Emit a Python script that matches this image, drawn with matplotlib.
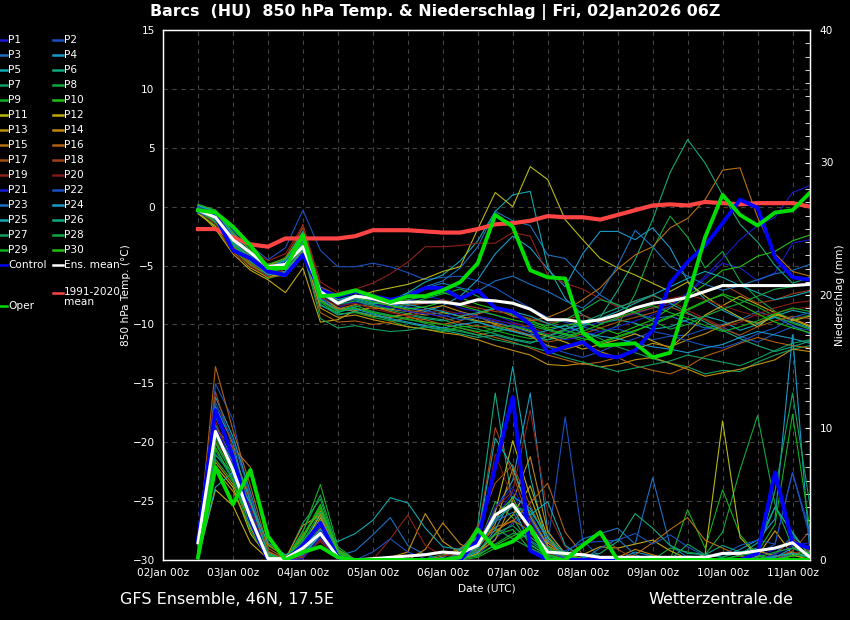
import numpy as np
import pandas as pd
import matplotlib
matplotlib.use('Agg')
import matplotlib.pyplot as plt
import matplotlib.dates as mdates
from matplotlib.lines import Line2D
from matplotlib.ticker import MultipleLocator

# time axis: 6-hourly from 02Jan 12z
times = pd.date_range('2026-01-02 12:00', periods=36, freq='6h')

# 850 hPa temperature of the ensemble members P1..P30 (degC)
member_temp = [
    [-0.1,-0.6,-2.5,-4.2,-5.6,-5.5, -3.8,-7.8,-8.6,-8.0,-8.3,-8.5, -8.0,-7.6,-7.9,-8.6,-8.9,-9.2, -9.8,-10.3,-11.0,-10.6,-10.2,-9.8, -9.5,-9.1,-8.6,-8.3,-7.4,-6.1, -4.8,-5.2,-6.3,-5.6,-3.1,-2.8],
    [-0.2,-0.5,-2.0,-3.3,-4.5,-3.5, -0.3,-3.7,-5.1,-5.1,-4.8,-5.1, -5.6,-6.2,-6.0,-5.9,-6.3,-6.9, -7.8,-8.6,-9.4,-9.8,-10.2,-10.6, -10.4,-10.8,-11.3,-11.0,-10.9,-10.4, -10.2,-11.0,-11.5,-10.8,-10.2,-10.5],
    [-0.3,-1.0,-3.0,-4.5,-5.5,-5.2, -3.0,-6.8,-7.6,-7.3,-7.6,-7.9, -7.4,-6.8,-6.3,-5.2,-3.4,-0.4, -1.2,-1.6,-4.1,-4.4,-6.0,-7.5, -8.4,-9.0,-9.5,-9.3,-9.8,-10.3, -10.0,-9.6,-8.9,-9.4,-10.1,-10.8],
    [0.1,-0.3,-2.3,-4.0,-5.0,-4.6, -2.6,-7.0,-7.9,-7.8,-8.2,-8.3, -8.6,-8.9,-8.4,-7.6,-6.2,-4.0, -2.5,-3.5,-5.3,-6.8,-4.0,-2.1, -2.1,-2.8,-1.8,-3.5,-6.3,-7.9, -8.8,-9.5,-9.9,-9.4,-9.8,-10.3],
    [-0.3,-0.8,-2.6,-4.4,-5.8,-5.9, -3.9,-8.4,-9.0,-8.5,-8.2,-8.0, -7.3,-6.4,-5.8,-4.6,-2.9,-0.4, 1.0,1.3,-5.1,-7.8,-9.2,-9.9, -9.6,-9.9,-10.4,-10.2,-9.6,-9.3, -9.7,-10.5,-10.0,-9.3,-8.8,-9.1],
    [-0.2,-0.9,-3.1,-4.6,-5.2,-4.8, -3.2,-7.6,-8.7,-8.6,-9.0,-9.3, -9.2,-9.5,-9.7,-9.4,-9.8,-10.3, -10.6,-11.0,-11.3,-10.8,-10.2,-9.4, -7.1,-4.5,-1.1,2.9,5.7,3.7, 1.0,-1.5,-3.0,-5.0,-6.5,-6.0],
    [-0.4,-1.4,-3.4,-4.9,-5.9,-5.6, -3.6,-7.3,-8.0,-7.9,-8.3,-8.8, -9.1,-9.4,-9.6,-10.1,-10.4,-10.8, -11.2,-11.5,-11.3,-11.0,-10.6,-11.2, -11.9,-12.4,-12.9,-13.3,-13.6,-14.2, -13.9,-14.0,-13.2,-12.6,-12.1,-11.8],
    [0.0,-0.4,-2.4,-4.1,-5.4,-5.1, -2.9,-7.9,-8.8,-8.4,-8.9,-9.2, -9.5,-9.9,-10.3,-10.5,-10.9,-10.6, -10.3,-10.1,-10.5,-10.9,-11.4,-10.8, -10.1,-7.4,-3.6,-0.8,-2.6,-5.2, -3.8,-6.3,-7.8,-8.9,-9.6,-9.2],
    [-0.2,-1.1,-3.2,-4.8,-6.1,-5.7, -3.3,-8.1,-9.1,-9.0,-9.4,-9.7, -10.2,-10.4,-10.6,-10.2,-10.1,-10.5, -10.9,-11.2,-11.0,-10.5,-10.9,-11.6, -11.1,-10.6,-9.9,-9.3,-8.8,-8.1, -7.4,-7.9,-8.5,-9.3,-9.9,-10.4],
    [-0.5,-1.6,-3.6,-5.0,-5.7,-5.1, -2.3,-7.0,-7.6,-7.2,-7.7,-8.0, -7.9,-7.6,-7.3,-7.7,-8.3,-8.7, -9.0,-9.6,-10.3,-10.1,-9.8,-10.3, -10.8,-10.2,-9.6,-8.6,-7.6,-6.6, -5.4,-5.1,-4.2,-3.8,-2.9,-2.4],
    [-0.6,-1.7,-3.8,-5.2,-6.0,-5.6, -3.7,-7.4,-8.1,-7.7,-7.2,-6.9, -6.6,-6.1,-5.5,-5.1,-1.9,1.2, 0.0,3.4,2.3,-1.1,-2.8,-4.4, -5.2,-5.8,-6.5,-7.2,-6.4,-7.6, -8.6,-9.4,-10.2,-9.1,-9.6,-10.2],
    [-0.4,-1.9,-4.0,-5.4,-6.2,-7.3, -5.2,-9.8,-9.6,-8.8,-8.6,-8.7, -8.9,-9.2,-9.0,-9.3,-9.7,-9.9, -10.2,-10.6,-11.0,-11.5,-12.1,-11.7, -11.3,-10.8,-11.4,-12.0,-10.7,-9.2, -8.4,-7.6,-8.3,-9.0,-9.7,-9.3],
    [-0.2,-1.2,-3.3,-4.7,-5.6,-5.2, -3.5,-8.6,-9.4,-9.2,-9.6,-9.9, -10.2,-10.4,-10.7,-10.9,-11.3,-11.8, -12.2,-12.6,-13.4,-13.5,-13.3,-13.6, -13.4,-13.0,-12.8,-13.3,-13.8,-14.4, -14.1,-13.8,-13.4,-13.0,-12.1,-12.3],
    [-0.3,-0.7,-2.7,-4.0,-5.0,-4.4, -2.4,-7.6,-8.6,-8.9,-9.3,-9.4, -9.1,-8.7,-8.4,-8.9,-9.3,-10.0, -10.5,-11.0,-11.8,-12.1,-11.7,-12.3, -12.8,-12.1,-11.6,-11.9,-11.3,-10.8, -10.1,-9.6,-9.9,-9.2,-9.5,-10.1],
    [-0.1,-0.8,-2.9,-4.5,-5.3,-4.9, -3.1,-8.0,-8.7,-8.3,-8.5,-8.9, -9.3,-9.8,-10.0,-9.7,-9.1,-8.7, -9.3,-9.7,-9.4,-8.8,-7.9,-6.9, -5.3,-4.1,-3.4,-1.8,-1.0,0.6, 3.1,3.3,-0.9,-4.0,-5.5,-5.9],
    [-0.5,-1.3,-3.5,-4.9,-6.0,-5.8, -3.9,-9.0,-9.8,-9.7,-10.0,-9.8, -9.4,-9.6,-10.0,-10.3,-10.7,-11.1, -11.5,-12.0,-12.6,-13.0,-13.4,-13.2, -12.8,-13.5,-13.9,-14.2,-13.6,-12.7, -12.2,-11.6,-11.1,-11.5,-11.8,-12.0],
    [-0.3,-1.0,-3.0,-4.3,-5.2,-4.3, -1.8,-7.1,-8.0,-7.6,-7.9,-8.4, -8.8,-9.0,-9.4,-9.9,-10.2,-10.1, -10.4,-10.9,-11.5,-11.2,-10.8,-10.3, -9.8,-9.4,-9.0,-8.5,-9.1,-9.6, -10.4,-10.9,-10.2,-9.7,-9.3,-9.5],
    [-0.2,-0.9,-3.4,-4.8,-5.7,-5.5, -1.5,-6.8,-7.5,-7.3,-7.8,-8.1, -8.4,-8.2,-7.9,-8.3,-8.6,-8.9, -9.1,-9.5,-9.9,-9.6,-9.2,-9.8, -9.5,-9.0,-8.6,-8.1,-7.6,-7.3, -6.6,-7.4,-8.2,-7.9,-7.4,-7.1],
    [-0.1,-0.6,-2.2,-3.6,-4.6,-4.0, -1.6,-6.4,-7.3,-7.0,-6.5,-5.7, -4.7,-3.4,-3.4,-3.3,-3.1,-3.1, -2.2,-2.5,-5.8,-6.5,-7.0,-7.8, -8.5,-8.1,-7.6,-8.0,-8.8,-9.5, -10.2,-9.8,-9.1,-8.6,-8.2,-8.0],
    [-0.4,-1.5,-3.9,-5.1,-5.9,-5.3, -3.4,-7.7,-8.4,-8.2,-8.7,-9.0, -9.3,-9.0,-8.8,-9.1,-9.4,-9.7, -9.9,-10.2,-10.8,-10.4,-9.9,-9.6, -9.1,-8.7,-8.2,-7.8,-7.5,-7.9, -8.4,-8.9,-9.3,-9.0,-8.7,-8.5],
    [-0.3,-0.7,-2.6,-4.1,-5.5,-5.2, -3.3,-7.5,-8.3,-8.1,-8.4,-8.6, -8.9,-9.1,-9.3,-9.0,-9.3,-9.6, -10.0,-10.4,-10.9,-11.3,-11.0,-10.6, -10.2,-9.7,-9.2,-8.5,-7.3,-5.9, -4.4,-2.8,-1.6,-0.9,1.2,1.8],
    [0.0,-0.5,-2.1,-3.8,-5.1,-4.7, -2.8,-7.2,-8.0,-7.6,-7.9,-8.2, -8.5,-8.8,-9.2,-9.6,-9.4,-9.8, -10.2,-10.7,-11.9,-12.4,-12.8,-12.3, -11.7,-11.2,-10.6,-10.9,-11.4,-11.8, -12.0,-11.5,-10.8,-10.3,-9.4,-9.0],
    [-0.5,-1.2,-3.2,-4.6,-5.4,-4.8, -2.5,-7.3,-8.2,-7.8,-8.0,-8.1, -7.5,-6.9,-6.5,-6.9,-7.2,-6.3, -5.9,-6.6,-7.2,-8.0,-8.6,-7.4, -5.0,-2.0,-3.4,-5.1,-5.9,-6.6, -7.1,-6.7,-6.2,-5.7,-5.4,-4.9],
    [-0.1,-0.9,-2.9,-4.5,-5.8,-5.5, -3.6,-7.8,-8.9,-8.7,-9.1,-9.5, -9.8,-10.1,-10.3,-10.0,-9.8,-10.2, -10.6,-10.9,-10.5,-10.1,-10.7,-11.0, -11.2,-11.6,-11.9,-12.1,-12.4,-12.0, -11.7,-11.1,-10.6,-10.9,-11.2,-11.6],
    [0.1,-0.4,-2.4,-3.9,-5.2,-4.5, -2.1,-7.0,-7.9,-7.5,-7.7,-8.0, -8.3,-8.6,-8.9,-9.3,-9.0,-8.6, -8.9,-9.3,-9.9,-10.4,-10.0,-9.5, -8.9,-8.2,-7.5,-6.8,-6.1,-5.5, -6.0,-6.7,-7.3,-7.9,-7.6,-7.2],
    [-0.3,-1.1,-3.1,-4.4,-5.3,-5.0, -3.0,-8.3,-9.2,-8.9,-9.2,-9.6, -9.9,-10.2,-10.5,-10.8,-11.1,-10.9, -11.3,-11.6,-11.0,-10.4,-9.8,-9.2, -8.6,-8.0,-7.5,-8.2,-9.0,-9.8, -10.5,-11.2,-11.8,-12.3,-11.9,-11.4],
    [-0.2,-0.8,-2.7,-4.2,-5.5,-5.3, -3.7,-9.5,-10.3,-10.1,-10.4,-10.6, -10.5,-10.2,-10.4,-10.6,-10.9,-11.3, -11.6,-11.9,-12.3,-12.8,-13.2,-13.6, -14.0,-13.7,-13.4,-13.1,-12.6,-12.9, -13.2,-13.5,-12.9,-12.2,-11.6,-11.3],
    [-0.4,-1.0,-3.0,-4.7,-5.6,-5.0, -2.7,-7.4,-8.3,-8.0,-8.4,-8.7, -8.2,-7.8,-7.4,-7.0,-7.6,-8.5, -9.2,-9.8,-10.1,-9.6,-8.8,-7.9, -8.3,-9.0,-9.7,-10.4,-10.0,-9.3, -8.7,-8.2,-7.6,-7.0,-6.8,-6.5],
    [-0.3,-1.3,-3.3,-4.5,-5.4,-5.3, -3.1,-8.0,-8.9,-8.6,-9.0,-9.3, -9.6,-9.8,-10.0,-10.3,-10.6,-10.4, -10.1,-10.5,-10.9,-11.2,-10.6,-10.0, -9.4,-8.9,-8.4,-9.0,-9.5,-10.1, -10.6,-10.2,-9.7,-9.1,-8.6,-8.9],
    [0.2,-0.3,-2.2,-3.7,-4.9,-4.4, -2.4,-7.2,-8.1,-7.7,-8.1,-8.4, -8.7,-8.5,-8.1,-8.4,-8.8,-9.2, -9.6,-9.9,-10.4,-10.8,-11.2,-11.5, -11.0,-10.5,-10.0,-9.4,-8.7,-8.0, -7.5,-8.3,-9.1,-9.8,-10.3,-10.7],
]

# 6-hourly precipitation of the members (mm)
member_rain = [
    [0.8,9.5,7.2,3.1,0.3,0, 0.4,1.8,0.2,0,0,0, 0,0,0.1,0.3,0.8,3.2, 5.1,2.4,0.6,0.2,0,0, 0,0,0,0,0.2,0.1, 0,0,0.3,0.8,1.4,0.9],
    [0.3,13.3,10.6,4.2,0.4,0, 0.2,2.3,0.4,0.1,0,0, 0,0,0,0.1,0.4,1.6, 2.8,3.5,1.2,10.8,1.5,0.2, 0,0,0,0,0,0, 0,0,0.4,1.2,6.6,2.1],
    [1.2,10.8,8.1,4.5,0.6,0, 0.8,2.6,0.3,0.7,1.9,3.2, 1.1,0.4,0,0.6,1.4,2.9, 4.3,3.1,1.0,0.5,1.6,2.0, 2.4,1.2,6.2,1.1,0.2,0, 0,0,0,0.5,1.8,0.6],
    [0.5,11.6,8.8,3.6,0.2,0, 0.6,2.9,0.2,0,0,0, 0,0,0,0,0.9,3.8, 6.0,12.6,2.2,0.4,0.1,0, 0,0.6,0.3,0,0,0.4, 0.2,0.8,1.5,3.1,17.0,0.5],
    [0.2,12.3,9.3,5.1,0.5,0, 0.3,1.9,0.1,0,0,0, 0,0,0.2,0.8,2.2,7.1, 14.6,6.3,1.0,0.2,0,0, 0,0,0,0,0.3,0.2, 0,0.4,1.3,4.0,2.1,0.3],
    [1.1,10.2,7.6,2.8,0.1,0, 1.2,3.4,0.5,0,0,0, 0,0,0,0.3,2.6,12.6, 4.1,1.2,0.3,0,0,0, 0,0,0,0,0,0, 0,0,0,0.2,0.6,0.2],
    [0.4,8.8,6.4,2.5,0.3,0, 2.8,4.6,0.6,0,0,0, 0,0.1,0.4,0.7,1.8,2.4, 1.6,0.9,0.3,0.5,0,0, 0,0,0,0,0,0, 0,0,0.5,5.2,12.6,4.1],
    [0.2,9.1,7.0,3.3,0.4,0, 1.5,3.0,0.3,0,0,0, 0,0,0,0.5,1.0,4.4, 3.2,1.1,0.4,0.2,0,0, 0,0,0,0.9,0.6,0.4, 2.1,6.8,10.9,4.2,1.0,0.3],
    [0.6,7.9,6.6,2.6,0.2,0, 2.1,5.7,1.0,0,0,0, 0,0,0,0.2,0.6,1.9, 2.3,0.8,0.2,0,0,0, 0,0,0,0,3.8,0.9, 5.3,1.9,0.4,0,0.3,0.2],
    [0.3,8.5,6.1,3.4,1.1,0.3, 1.6,4.1,0.7,0,0,0, 0,0,0,0.1,0.4,1.1, 1.8,2.5,0.6,0.1,0,0, 0,0,0,0,0,0, 0,0,0,0,0.4,0.8],
    [0.1,7.1,5.5,2.0,0.2,0, 0.9,3.5,0.4,0,0,0, 0,0,0,0.2,0.8,3.6, 9.0,4.8,1.3,0.3,0,0, 0,0,0,0,0,0.4, 10.5,1.7,0.3,0,0,0],
    [0.2,5.3,4.1,1.3,0.1,0, 0.6,3.2,0.3,0,0,0, 0,0,0,0,0.5,2.0, 3.4,5.6,1.7,0.2,0.4,1.0, 0.9,1.2,1.5,0.7,0.1,0, 0,0,0.3,2.2,0.4,0],
    [0.4,6.8,5.2,2.4,0.3,0, 1.9,3.7,0.8,0,0,0.2, 0.6,3.5,1.4,0.5,0.9,2.7, 6.9,3.3,1.1,0.3,0,0, 0,0,0,0,0,0, 0,0,0,0,0.6,0.2],
    [0.3,7.4,5.7,2.9,0.6,0.1, 2.6,3.4,0.5,0,0,0, 0,0.8,2.8,1.2,0.6,1.5, 4.5,7.8,2.1,0.5,0.1,0, 0.2,0.8,0.4,0,0,0, 0,0,0.7,0.3,0,0],
    [0.6,9.9,8.5,7.0,1.2,0.2, 1.1,2.7,0.4,0,0,0, 0,0,0.3,0.9,1.6,2.2, 3.0,2.2,0.8,0.2,0,0, 0,0.4,1.3,2.3,3.2,1.5, 0.9,0.3,0,0,0,0],
    [1.0,14.6,9.8,5.6,0.9,0.1, 0.7,2.4,0.6,0,0,0, 0,0,0,0.4,0.9,2.5, 2.9,4.3,5.8,2.1,0.4,0, 0,0,0,0,0,0, 0,0,0,0,0,0],
    [0.7,11.2,7.9,4.8,0.7,0, 0.5,2.1,0.2,0,0,0, 0,0,0,0.6,2.5,5.8, 7.2,4.1,1.4,0.3,0,0, 0,0,0,0,0,0, 0,0,0,0.4,1.6,0.5],
    [0.9,12.7,8.4,3.9,0.4,0, 0.2,1.6,0.1,0,0,0, 0,0,0,0.4,1.8,10.0, 6.5,2.7,0.9,0.4,1.1,2.0, 0.8,0.1,0,0,0,0, 0,0,0,0.2,0.7,2.2],
    [0.5,10.5,7.1,3.5,0.2,0, 0.4,1.4,0.1,0,0,1.6, 3.4,1.1,0.3,0.5,1.1,3.9, 5.2,11.3,3.6,1.0,0.2,0, 0,0,0,0,0,0, 0,0,0,0,0.5,0.8],
    [0.4,9.0,6.9,4.0,0.3,0, 0.3,1.5,0,0,0,0, 0,0,0,0.3,0.7,8.0, 4.6,1.8,0.5,0.1,0,0, 0,0,0,0,0,0, 0,0,0,0,0,0],
    [0.3,10.0,7.5,3.8,0.2,0, 0.1,1.7,0,0,0,0, 0,0,0,0.3,1.2,4.0, 5.5,3.0,0.8,0.1,0,0, 0,0,0,0,0,0, 0,0,0,0.4,1.1,1.3],
    [0.8,11.9,9.0,4.9,0.3,0, 0.5,2.2,0.2,0,0.6,1.6, 0.6,0.1,0,0.2,0.9,3.0, 4.2,2.6,0.6,0.7,1.3,1.4, 1.5,2.0,1.2,1.9,1.0,0.3, 0.4,1.1,1.5,1.2,6.6,1.7],
    [0.6,8.0,6.3,3.0,0.4,0, 1.0,2.6,0.3,0,0,0, 0,0,0,0.5,1.5,2.9, 3.6,1.5,0.6,0.2,0,0.9, 1.6,0.4,0,0,0,0, 0,0,0,0,0.5,0.3],
    [0.1,9.6,7.4,2.7,0.1,0, 0.4,1.9,0.5,0,0,0, 0,0,0,0.1,0.6,2.3, 4.8,3.9,1.5,0.3,0,0, 0,0,0,0,0,0, 0,0,0,0.2,0.9,0.4],
    [0.2,5.5,6.6,4.3,1.3,0.4, 0.9,2.3,1.4,2.0,3.0,4.7, 4.3,2.4,1.0,0.8,1.7,9.2, 7.0,3.4,4.4,1.1,0.2,0, 0,0,0,0,0,0, 0,0,0,0.3,0.5,0.2],
    [0.5,10.9,8.2,4.4,0.5,0, 0.6,2.0,0.2,0,0,0, 0,0,0,0.3,0.9,3.1, 4.0,3.7,1.8,0.4,0.3,0.5, 1.4,3.5,2.4,1.1,0.5,0.4, 1.1,0.6,0.9,4.0,2.0,0.3],
    [0.4,9.3,7.1,3.1,0.2,0, 1.4,3.6,0.4,0,0,0, 0,0,0,0.2,0.7,2.0, 2.6,1.4,0.4,0.1,0,0, 0,0,0,0,1.2,0.4, 0.2,0.6,0.3,0,0,0],
    [0.3,8.3,6.0,2.2,0.2,0, 2.2,4.9,0.8,0,0,0, 0,0,0,0.1,0.3,1.2, 2.0,1.7,0.8,0.6,0.4,0.2, 0,0,0,0,0,0, 0,0,0.2,0.6,0.9,0.4],
    [0.1,7.6,5.9,2.9,0.3,0, 1.8,4.2,0.5,0,0,0, 0,0,0,0,0.2,0.9, 1.4,2.0,0.9,0.3,0.1,0, 0,0,0,0,0,0, 0.1,0.3,0.6,2.7,11.0,2.3],
    [0.5,8.9,6.7,3.2,0.4,0, 1.7,3.9,0.6,0,0,0, 0,0,0,0.3,1.1,3.3, 4.7,2.1,0.4,0,0,0, 0,0,0,0,0,0, 0,0,0,0,0.3,0.6],
]

ctrl_temp = [-0.3,-0.8,-3.7,-4.4,-5.5,-5.8, -4.1,-7.1,-7.6,-7.2,-7.6,-7.9, -7.6,-6.9,-6.9,-7.8,-7.1,-8.6,
             -8.9,-10.0,-12.4,-11.9,-11.5,-12.6, -12.8,-12.2,-10.5,-6.5,-4.7,-3.3, -1.4,0.6,-0.1,-4.3,-6.0,-6.2]
oper_temp = [-0.3,-0.5,-1.7,-3.3,-5.2,-5.2, -2.4,-7.6,-7.5,-7.1,-7.6,-8.1, -7.6,-7.6,-7.1,-6.4,-4.8,-0.7,
             -1.7,-5.4,-6.0,-6.1,-10.7,-11.8, -11.7,-11.6,-12.8,-12.4,-7.7,-2.6, 1.0,-0.7,-1.6,-0.5,-0.3,1.2]
mean_temp = [-0.3,-0.9,-2.8,-3.9,-5.1,-4.9, -3.4,-7.2,-8.2,-7.6,-7.8,-8.2, -8.1,-8.1,-8.1,-8.3,-7.9,-8.0,
             -8.2,-8.7,-9.6,-9.6,-9.8,-9.6, -9.2,-8.6,-8.2,-8.0,-7.7,-7.2, -6.7,-6.7,-6.7,-6.7,-6.7,-6.6]
clim_temp = [-1.9,-1.9,-2.6,-3.2,-3.4,-2.7, -2.7,-2.7,-2.7,-2.5,-2.0,-2.0, -2.0,-2.1,-2.2,-2.2,-1.9,-1.5,
             -1.4,-1.2,-0.8,-0.9,-0.9,-1.1, -0.7,-0.3,0.1,0.2,0.1,0.4, 0.3,0.2,0.3,0.3,0.3,0.0]

ctrl_rain = [1.5,11.3,7.8,3.0,0,0, 1.1,2.8,0.2,0,0,0, 0,0,0,0,1.5,7.0,
             12.3,0.7,0,0,0,0, 0,0,0,0,0,0, 0,0,0.5,6.6,1.3,0.9]
oper_rain = [0.2,7.0,4.2,6.8,1.8,0, 0.6,1.0,0.2,0,0,0, 0,0,0,0.2,2.3,0.9,
             1.4,2.5,0,0,1.1,2.1, 0,0,0,0,0,0, 0,0,0,0,0,0]
mean_rain = [1.3,9.7,6.8,3.2,0.1,0.1, 0.9,2.0,0.2,0,0.1,0.2, 0.3,0.4,0.6,0.5,1.1,3.4,
             4.2,2.4,0.6,0.5,0.4,0.2, 0.2,0.2,0.2,0.2,0.2,0.2, 0.5,0.5,0.7,0.9,1.3,0.2]

member_colors = ['#1a1ad0', '#1a50c0', '#1a70c0', '#1a98c8', '#10a8b0',
                 '#10a880', '#10a060', '#10a840', '#10b020', '#20c010',
                 '#b8b810', '#c0a810', '#c09010', '#c08810', '#b87010',
                 '#b06010', '#a05010', '#a04018', '#902018', '#801818']
ctrl_color = '#0000ff'
oper_color = '#00dd00'
mean_color = '#ffffff'
clim_color = '#ff4444'

W, H = 850, 620
fig = plt.figure(figsize=(W / 100, H / 100), dpi=100, facecolor='black')
ax = fig.add_axes([163 / W, 60 / H, 647 / W, 530 / H])
ax.set_facecolor('black')
ax2 = ax.twinx()

# temperature
for k, t in enumerate(member_temp):
    ax.plot(times, t, color=member_colors[k % 20], lw=0.8, zorder=2)
ax.plot(times, clim_temp, color=clim_color, lw=3, zorder=3)
ax.plot(times, ctrl_temp, color=ctrl_color, lw=2.8, zorder=4)
ax.plot(times, mean_temp, color=mean_color, lw=2.2, zorder=5)
ax.plot(times, oper_temp, color=oper_color, lw=2.8, zorder=6)

# precipitation
for k, r in enumerate(member_rain):
    ax2.plot(times, r, color=member_colors[k % 20], lw=0.8, zorder=2)
ax2.plot(times, ctrl_rain, color=ctrl_color, lw=2.8, zorder=4)
ax2.plot(times, mean_rain, color=mean_color, lw=2.2, zorder=5)
ax2.plot(times, oper_rain, color=oper_color, lw=2.8, zorder=6)

ax.set_xlim(pd.Timestamp('2026-01-02 00:00'), pd.Timestamp('2026-01-11 06:00'))
ax.set_ylim(-30, 15)
ax.set_yticks(np.arange(-30, 16, 5))
ax2.set_ylim(0, 40)
ax2.set_yticks([0, 10, 20, 30, 40])
ax2.yaxis.set_minor_locator(MultipleLocator(1))

ax.xaxis.set_major_locator(mdates.DayLocator())
ax.xaxis.set_minor_locator(mdates.HourLocator(byhour=[12]))
ax.xaxis.set_major_formatter(mdates.DateFormatter('%d%b %Hz'))

grid_kw = dict(color='#444444', ls=(0, (4, 4)), lw=0.8)
ax.grid(True, which='both', axis='x', **grid_kw)
ax.grid(True, which='major', axis='y', **grid_kw)
ax.set_axisbelow(True)

for a in (ax, ax2):
    for s in a.spines.values():
        s.set_color('white')
        s.set_linewidth(0.9)

ax.tick_params(axis='y', length=0, colors='white', labelsize=7.6, pad=6)
ax.tick_params(axis='x', which='both', length=0, colors='white', labelsize=7.6, pad=6)
ax2.tick_params(axis='y', which='both', direction='in', length=3.5, color='white',
                labelcolor='white', labelsize=7.6, pad=7)

ax.set_xlabel('Date (UTC)', color='white', fontsize=7.6, labelpad=4)
fig.text(126 / W, 1 - 295 / H, '850 hPa Temp. (°C)', rotation=90, ha='center', va='center',
         color='white', fontsize=7.6)
fig.text(840 / W, 1 - 295 / H, 'Niederschlag (mm)', rotation=90, ha='center', va='center',
         color='white', fontsize=7.6)

fig.text(435 / W, 1 - 12 / H, 'Barcs  (HU)  850 hPa Temp. & Niederschlag | Fri, 02Jan2026 06Z',
         ha='center', va='center', color='white', fontsize=11.4, fontweight='bold')
fig.text(120 / W, 1 - 599 / H, 'GFS Ensemble, 46N, 17.5E', ha='left', va='center',
         color='white', fontsize=11.5)
fig.text(793 / W, 1 - 599 / H, 'Wetterzentrale.de', ha='right', va='center',
         color='white', fontsize=11.5)

# legend drawn by hand on the left margin
def legend_entry(x, y, color, label):
    fig.add_artist(Line2D([(x - 10) / W, x / W], [1 - y / H, 1 - y / H],
                          transform=fig.transFigure, color=color, lw=1.8))
    fig.text((x + 1) / W, 1 - y / H, label, ha='left', va='center',
             color='white', fontsize=7.6)

for k in range(30):
    row = k // 2
    x = 7 if k % 2 == 0 else 63
    legend_entry(x, 40 + 15 * row, member_colors[k % 20], f'P{k + 1}')
legend_entry(7, 265, ctrl_color, 'Control')
legend_entry(63, 265, mean_color, 'Ens. mean')
legend_entry(7, 306, oper_color, 'Oper')
fig.add_artist(Line2D([53 / W, 63 / W], [1 - 293 / H, 1 - 293 / H],
                      transform=fig.transFigure, color=clim_color, lw=1.8))
fig.text(64 / W, 1 - 287 / H, '1991-2020\nmean', ha='left', va='top', color='white',
         fontsize=7.6, linespacing=0.95)

fig.savefig('out.png', dpi=100, facecolor='black')
